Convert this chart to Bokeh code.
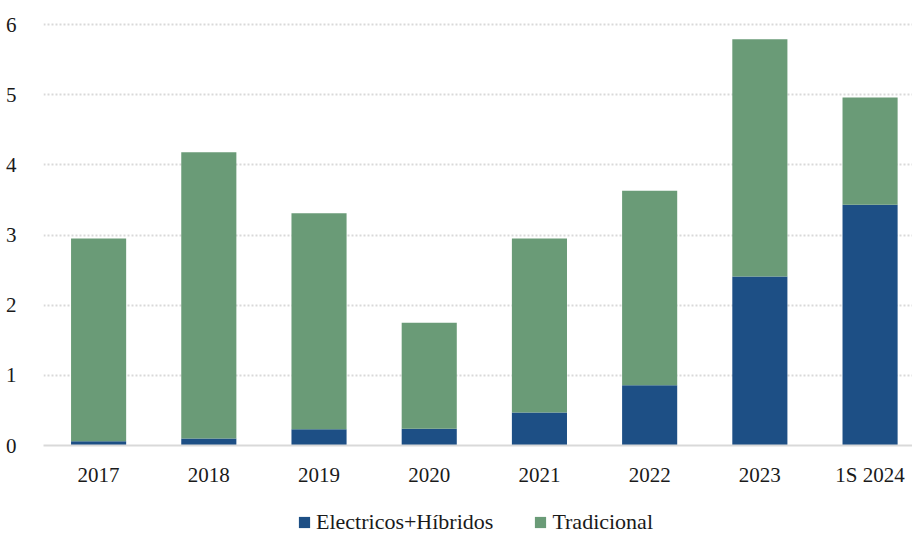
from bokeh.plotting import figure
from bokeh.layouts import column
from bokeh.models import Range1d, FixedTicker, Legend, LegendItem, ColumnDataSource
from bokeh.embed import file_html
from bokeh.resources import INLINE

categories = ["2017", "2018", "2019", "2020", "2021", "2022", "2023", "1S 2024"]
electricos = [0.06, 0.10, 0.23, 0.24, 0.47, 0.86, 2.41, 3.43]
total = [2.95, 4.18, 3.31, 1.75, 2.95, 3.63, 5.79, 4.96]
tradicional = [t - e for t, e in zip(total, electricos)]
y_ticks = [0, 1, 2, 3, 4, 5, 6]
series_names = ["Electricos+Híbridos", "Tradicional"]

BLUE = "#1D4F85"
GREEN = "#6A9B77"
FONT = "Liberation Serif"

xs = list(range(len(categories)))
src = ColumnDataSource(dict(x=xs, e=electricos, t=tradicional,
                            top=[e + t for e, t in zip(electricos, tradicional)]))

p = figure(width=912, height=490, output_backend="svg", toolbar_location=None,
           x_range=Range1d(-0.5, 7.385), y_range=Range1d(0, 6.2),
           min_border_left=43, min_border_right=0, min_border_top=10,
           min_border_bottom=45)
p.outline_line_color = None
p.background_fill_color = "white"

r1 = p.vbar(x="x", width=0.5, bottom=0, top="e", source=src, fill_color=BLUE, line_color=None)
r2 = p.vbar(x="x", width=0.5, bottom="e", top="top", source=src, fill_color=GREEN, line_color=None)

# axes
p.xaxis.ticker = FixedTicker(ticks=xs)
p.xaxis.major_label_overrides = {i: c for i, c in enumerate(categories)}
p.xaxis.axis_line_color = "#d9d9d9"
p.xaxis.axis_line_width = 2
p.xaxis.major_tick_line_color = None
p.xaxis.minor_tick_line_color = None
p.xaxis.major_label_standoff = 11
p.xaxis.major_label_text_font = FONT
p.xaxis.major_label_text_font_size = "21px"
p.xaxis.major_label_text_color = "#1a1a1a"

p.yaxis.ticker = FixedTicker(ticks=y_ticks)
p.yaxis.axis_line_color = None
p.yaxis.major_tick_line_color = None
p.yaxis.minor_tick_line_color = None
p.yaxis.major_label_standoff = 21
p.yaxis.major_label_text_font = FONT
p.yaxis.major_label_text_font_size = "21px"
p.yaxis.major_label_text_color = "#1a1a1a"

p.xgrid.grid_line_color = None
p.ygrid.ticker = FixedTicker(ticks=y_ticks[1:])
p.ygrid.grid_line_color = "#d9d9d9"
p.ygrid.grid_line_width = 2
p.ygrid.grid_line_dash = "2 2"

# legend strip below the chart (proxy glyphs lie outside the visible range)
lg = figure(width=912, height=45, output_backend="svg", toolbar_location=None,
            x_range=Range1d(0, 1), y_range=Range1d(0, 1),
            min_border=0, x_axis_location=None, y_axis_location=None)
lg.outline_line_color = None
lg.xgrid.grid_line_color = None
lg.ygrid.grid_line_color = None
proxy = ColumnDataSource(dict(x=[10.0], top=[0.5]))
l1 = lg.vbar(x="x", top="top", width=0.1, source=proxy, fill_color=BLUE, line_color=None)
l2 = lg.vbar(x="x", top="top", width=0.1, source=proxy, fill_color=GREEN, line_color=None)

legend = Legend(items=[LegendItem(label=series_names[0], renderers=[l1]),
                       LegendItem(label=series_names[1], renderers=[l2])],
                orientation="horizontal", location=(254, 0),
                label_text_font=FONT, label_text_font_size="22px",
                label_text_color="#1a1a1a",
                glyph_width=14, glyph_height=14, label_standoff=5, spacing=40,
                padding=0, margin=0, border_line_color=None,
                background_fill_alpha=0)
lg.add_layout(legend, "center")

layout = column(p, lg, spacing=0)
open("out.html", "w").write(file_html(layout, INLINE))
